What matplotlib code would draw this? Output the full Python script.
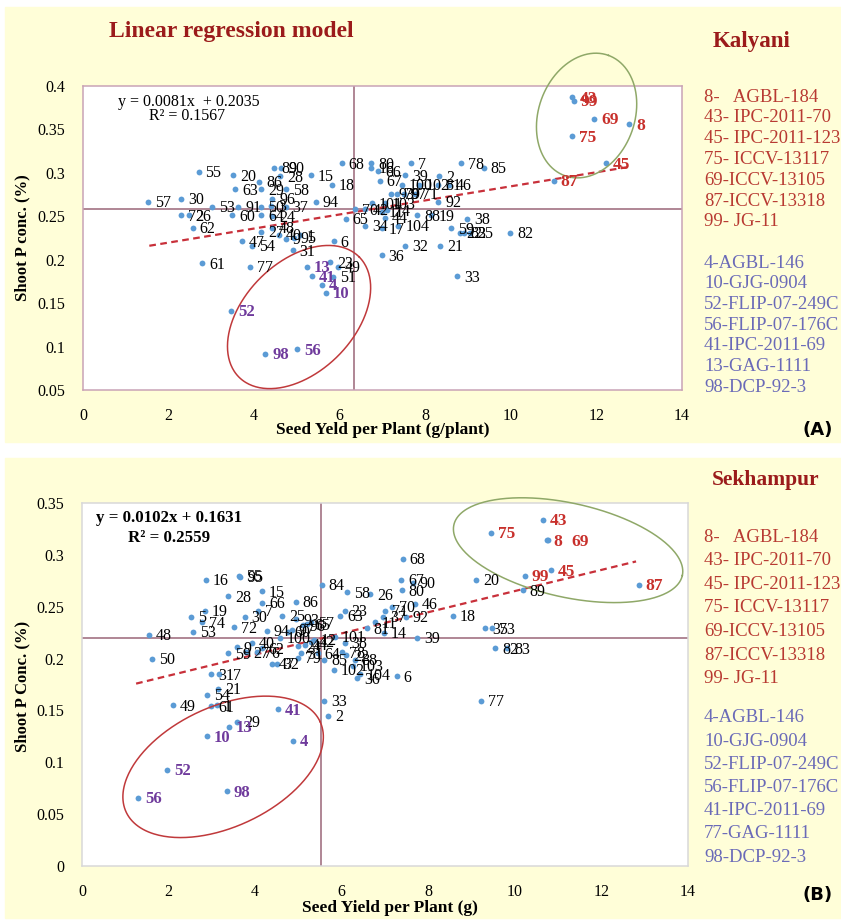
import numpy as np
import matplotlib
matplotlib.use('Agg')
import matplotlib.pyplot as plt
from matplotlib.patches import Rectangle

plt.rcParams['font.family'] = ['Liberation Serif', 'DejaVu Serif']

# ---- (A) Kalyani ----
a_lab = ['55', '20', '86', '89', '90', '28', '15', '68', '63', '29', '58', '18', '57', '30',
         '53', '91', '50', '96', '37', '3', '94', '72', '26', '60', '64', '24', '62', '27',
         '48', '40', '47', '54', '9', '95', '1', '31', '6', '61', '77', '13', '23', '49',
         '41', '4', '51', '10', '52', '98', '56', '65', '80', '16', '66', '7', '78', '85',
         '67', '39', '2', '100', '102', '81', '46', '93', '97', '71', '79', '92', '101',
         '103', '70', '42', '11', '44', '74', '34', '17', '104', '88', '19', '38', '59',
         '22', '83', '25', '82', '32', '21', '36', '33',
         '43', '99', '69', '8', '75', '45', '87']
a_x = [2.70, 3.51, 4.12, 4.47, 4.63, 4.60, 5.33, 6.05, 3.56, 4.16, 4.74, 5.81, 1.53, 2.30,
       3.02, 3.63, 4.16, 4.42, 4.74, 4.40, 5.44, 2.30, 2.47, 3.49, 4.16, 4.42, 2.56, 4.16,
       4.42, 4.58, 3.72, 3.95, 4.74, 4.92, 5.07, 4.90, 5.86, 2.79, 3.91, 5.23, 5.77, 5.95,
       5.35, 5.58, 5.85, 5.67, 3.47, 4.26, 5.00, 6.14, 6.74, 6.74, 6.90, 7.67, 8.84, 9.37,
       6.93, 7.53, 8.33, 7.45, 7.85, 8.30, 8.55, 7.20, 7.50, 7.75, 7.35, 8.30, 6.75,
       7.05, 6.35, 6.60, 6.98, 7.05, 7.10, 6.60, 6.98, 7.37, 7.81, 8.14, 8.98, 8.60,
       8.80, 8.90, 9.05, 9.98, 7.53, 8.35, 6.98, 8.74,
       11.44, 11.47, 11.95, 12.77, 11.42, 12.23, 11.00]
a_y = [0.301, 0.297, 0.290, 0.306, 0.306, 0.296, 0.297, 0.311, 0.281, 0.281, 0.281, 0.286, 0.267, 0.270,
       0.261, 0.261, 0.261, 0.270, 0.261, 0.262, 0.267, 0.251, 0.251, 0.251, 0.251, 0.250, 0.237, 0.232,
       0.237, 0.229, 0.221, 0.216, 0.224, 0.225, 0.228, 0.211, 0.221, 0.196, 0.192, 0.192, 0.197, 0.192,
       0.181, 0.171, 0.180, 0.162, 0.141, 0.092, 0.097, 0.247, 0.311, 0.306, 0.302, 0.311, 0.311, 0.306,
       0.291, 0.297, 0.296, 0.286, 0.286, 0.286, 0.286, 0.276, 0.276, 0.276, 0.276, 0.267, 0.265,
       0.265, 0.258, 0.258, 0.255, 0.248, 0.257, 0.239, 0.236, 0.239, 0.251, 0.251, 0.247, 0.236,
       0.231, 0.231, 0.231, 0.231, 0.216, 0.216, 0.205, 0.181,
       0.387, 0.383, 0.362, 0.356, 0.342, 0.311, 0.291]
a_good = ['43', '99', '69', '8', '75', '45', '87']
a_poor = ['13', '41', '4', '10', '52', '98', '56']
a_eq = ['y = 0.0081x  + 0.2035', 'R\u00b2 = 0.1567']
a_slope, a_icpt = 0.0081, 0.2035
a_fit_x = [1.55, 12.75]
a_mean_x, a_mean_y = 6.33, 0.258
a_legend_good = ['8-   AGBL-184', '43- IPC-2011-70', '45- IPC-2011-123', '75- ICCV-13117',
                 '69-ICCV-13105', '87-ICCV-13318', '99- JG-11']
a_legend_poor = ['4-AGBL-146', '10-GJG-0904', '52-FLIP-07-249C', '56-FLIP-07-176C',
                 '41-IPC-2011-69', '13-GAG-1111', '98-DCP-92-3']

# ---- (B) Sekhampur ----
b_lab = ['16', '55', '95', '28', '15', '66', '86', '5', '19', '74', '53', '30', '7', '72',
         '25', '93', '48', '50', '94', '40', '59', '9', '27', '62', '76', '100', '60', '97',
         '96', '57', '65', '42', '12', '44', '24', '64', '31', '47', '32', '79', '3', '17',
         '21', '54', '49', '61', '1', '29', '13', '41', '10', '4', '52', '56', '98', '33',
         '2', '68', '84', '58', '26', '67', '80', '90', '71', '70', '37', '46', '92', '20',
         '18', '35', '73', '82', '83', '23', '63', '81', '11', '14', '39', '101', '38', '78',
         '85', '88', '22', '102', '103', '104', '36', '6', '77', '89',
         '43', '75', '8', '69', '99', '45', '87']
b_x = [2.86, 3.63, 3.66, 3.37, 4.16, 4.16, 4.94, 2.52, 2.84, 2.77, 2.56, 3.76, 4.06, 3.51,
       4.62, 4.95, 1.55, 1.62, 4.27, 3.93, 3.37, 3.58, 3.80, 4.15, 4.05, 4.57, 4.75, 4.85,
       5.10, 5.30, 5.20, 5.30, 5.35, 5.15, 5.00, 5.45, 5.05, 4.39, 4.50, 4.99, 2.98, 3.16,
       3.14, 2.89, 2.10, 2.98, 3.12, 3.58, 3.40, 4.53, 2.89, 4.87, 1.97, 1.29, 3.35, 5.59,
       5.69, 7.41, 5.54, 6.12, 6.65, 7.37, 7.39, 7.64, 7.00, 7.16, 6.95, 7.69, 7.48, 9.10,
       8.57, 9.31, 9.47, 9.54, 9.82, 6.07, 5.96, 6.58, 6.77, 6.97, 7.74, 5.84, 6.07, 6.00,
       5.60, 6.30, 6.10, 5.82, 6.25, 6.42, 6.35, 7.27, 9.21, 10.18,
       10.65, 9.44, 10.74, 10.76, 10.23, 10.83, 12.86]
b_y = [0.276, 0.280, 0.279, 0.260, 0.265, 0.254, 0.255, 0.240, 0.246, 0.235, 0.226, 0.240, 0.246, 0.230,
       0.241, 0.238, 0.223, 0.200, 0.227, 0.215, 0.205, 0.211, 0.206, 0.210, 0.206, 0.220, 0.226, 0.228,
       0.232, 0.235, 0.233, 0.216, 0.218, 0.213, 0.212, 0.205, 0.205, 0.195, 0.195, 0.201, 0.185, 0.185,
       0.171, 0.165, 0.155, 0.154, 0.155, 0.139, 0.134, 0.151, 0.125, 0.121, 0.093, 0.066, 0.072, 0.159,
       0.145, 0.296, 0.271, 0.264, 0.262, 0.276, 0.266, 0.273, 0.246, 0.250, 0.240, 0.253, 0.240, 0.276,
       0.241, 0.229, 0.229, 0.210, 0.210, 0.246, 0.241, 0.229, 0.235, 0.225, 0.220, 0.221, 0.215, 0.206,
       0.199, 0.199, 0.203, 0.189, 0.193, 0.185, 0.181, 0.183, 0.159, 0.266,
       0.334, 0.321, 0.314, 0.314, 0.280, 0.285, 0.271]
b_good = ['43', '75', '8', '69', '99', '45', '87']
b_poor = ['13', '41', '4', '10', '52', '98', '56']
b_eq = ['y = 0.0102x + 0.1631', 'R\u00b2 = 0.2559']
b_slope, b_icpt = 0.0102, 0.1631
b_fit_x = [1.25, 12.8]
b_mean_x, b_mean_y = 5.53, 0.220
b_legend_good = a_legend_good
b_legend_poor = ['4-AGBL-146', '10-GJG-0904', '52-FLIP-07-249C', '56-FLIP-07-176C',
                 '41-IPC-2011-69', '77-GAG-1111', '98-DCP-92-3']

W, H = 841, 923
fig = plt.figure(figsize=(W / 100, H / 100), dpi=100)
fig.patch.set_facecolor('white')

def fx(px):
    return px / W

def fy(py):
    return 1 - py / H

yellow = '#FFFED8'
dark_red = '#9B1B1B'
red = '#C8302C'
purple = '#6F3A9C'
leg_red = '#B83A32'
leg_blue = '#6A6AB8'
dot = '#5B9BD5'
cross = '#9A6678'

fig.add_artist(Rectangle((fx(5), fy(442)), fx(836), 435 / H, transform=fig.transFigure,
                         color=yellow, zorder=-10))
fig.add_artist(Rectangle((fx(5), fy(918)), fx(836), 460 / H, transform=fig.transFigure,
                         color=yellow, zorder=-10))

def ring(ax, cx, cy, a, b, ang, col):
    pos = ax.get_position()
    x0, x1 = ax.get_xlim()
    y0, y1 = ax.get_ylim()
    sx = pos.width * W / (x1 - x0)
    sy = pos.height * H / (y1 - y0)
    t = np.linspace(0, 2 * np.pi, 300)
    r = np.radians(ang)
    dx = a * np.cos(t) * np.cos(r) - b * np.sin(t) * np.sin(r)
    dy = a * np.cos(t) * np.sin(r) + b * np.sin(t) * np.cos(r)
    ax.plot(cx + dx / sx, cy + dy / sy, color=col, lw=1.1, clip_on=False, zorder=4)

def panel(rect, lab, xs, ys, good, poor, ylim, yticks, spine_col, shift={}):
    ax = fig.add_axes(rect)
    ax.set_facecolor('white')
    ax.set_xlim(0, 14)
    ax.set_ylim(*ylim)
    ax.set_xticks(range(0, 15, 2))
    ax.set_yticks(yticks)
    ax.set_yticklabels([('%g' % v) for v in yticks])
    ax.tick_params(length=0, pad=13, labelsize=11.5)
    for s in ax.spines.values():
        s.set_color(spine_col)
        s.set_linewidth(1.1)
    ax.plot(xs, ys, 'o', color=dot, ms=4.2, mec='none', zorder=3)
    for l, x, y in zip(lab, xs, ys):
        off = (5 + shift.get(l, 0), -1)
        if l in good:
            ax.annotate(l, (x, y), xytext=off, textcoords='offset points', va='center',
                        fontsize=12.5, fontweight='bold', color=red, zorder=5)
        elif l in poor:
            ax.annotate(l, (x, y), xytext=off, textcoords='offset points', va='center',
                        fontsize=12, fontweight='bold', color=purple, zorder=5)
        else:
            ax.annotate(l, (x, y), xytext=off, textcoords='offset points', va='center',
                        fontsize=11.5, color='black', zorder=5)
    return ax

# top panel
axA = panel([fx(83), fy(390), (682 - 83) / W, (390 - 86) / H], a_lab, a_x, a_y, a_good, a_poor,
            (0.05, 0.4), np.arange(0.05, 0.401, 0.05).round(2), '#C9A3B6')
axA.axvline(a_mean_x, color=cross, lw=1.1, zorder=2)
axA.axhline(a_mean_y, color=cross, lw=1.1, zorder=2)
fxs = np.array(a_fit_x)
axA.plot(fxs, a_slope * fxs + a_icpt, color='#C8303A', lw=1.6, dashes=(3, 2), zorder=2)
ring(axA, 5.05, 0.134, 85, 55, 45, '#C0393B')
ring(axA, 11.77, 0.366, 64, 48, 70, '#8FA868')

# bottom panel
axB = panel([fx(82), fy(866), (688 - 82) / W, (866 - 503) / H], b_lab, b_x, b_y, b_good, b_poor,
            (0, 0.35), np.arange(0, 0.351, 0.05).round(2), '#D8D8D8', shift={'69': 12})
axB.axvline(b_mean_x, color=cross, lw=1.1, zorder=2)
axB.axhline(b_mean_y, color=cross, lw=1.1, zorder=2)
fxs = np.array(b_fit_x)
axB.plot(fxs, b_slope * fxs + b_icpt, color='#C8303A', lw=1.6, dashes=(3, 2), zorder=2)
ring(axB, 3.26, 0.0956, 107, 60, 25, '#C0393B')
ring(axB, 11.23, 0.3045, 117, 47, -12.5, '#8FA868')

# texts
fig.text(fx(231), fy(32), 'Linear regression model', ha='center', va='center', fontsize=17,
         fontweight='bold', color=dark_red)
fig.text(fx(752), fy(42), 'Kalyani', ha='center', va='center', fontsize=16.5,
         fontweight='bold', color=dark_red)
fig.text(fx(766), fy(480), 'Sekhampur', ha='center', va='center', fontsize=15.5,
         fontweight='bold', color=dark_red)

fig.text(fx(118), fy(102), a_eq[0], ha='left', va='center', fontsize=11.5)
fig.text(fx(149), fy(116), a_eq[1], ha='left', va='center', fontsize=11.5)
fig.text(fx(96), fy(518), b_eq[0], ha='left', va='center', fontsize=12.2, fontweight='bold')
fig.text(fx(128), fy(538), b_eq[1], ha='left', va='center', fontsize=12.2, fontweight='bold')

fig.text(fx(383), fy(430), 'Seed Yeld per Plant (g/plant)', ha='center', va='center',
         fontsize=12.5, fontweight='bold')
fig.text(fx(390), fy(908), 'Seed Yield per Plant (g)', ha='center', va='center',
         fontsize=12.5, fontweight='bold')
fig.text(fx(22), fy(238), 'Shoot P conc. (%)', ha='center', va='center', rotation=90,
         fontsize=12, fontweight='bold')
fig.text(fx(22), fy(686), 'Shoot P Conc. (%)', ha='center', va='center', rotation=90,
         fontsize=12, fontweight='bold')

for i, s in enumerate(a_legend_good):
    fig.text(fx(704), fy(97 + 20.8 * i), s, ha='left', va='center', fontsize=13.5, color=leg_red)
for i, s in enumerate(a_legend_poor):
    fig.text(fx(704), fy(263 + 20.7 * i), s, ha='left', va='center', fontsize=13.5, color=leg_blue)
for i, s in enumerate(b_legend_good):
    fig.text(fx(704), fy(537 + 23.6 * i), s, ha='left', va='center', fontsize=13.5, color=leg_red)
for i, s in enumerate(b_legend_poor):
    fig.text(fx(704), fy(718 + 23.2 * i), s, ha='left', va='center', fontsize=13.5, color=leg_blue)

fig.text(fx(818), fy(430), '(A)', ha='center', va='center', fontsize=13, fontweight='bold',
         family='DejaVu Sans')
fig.text(fx(818), fy(895), '(B)', ha='center', va='center', fontsize=13, fontweight='bold',
         family='DejaVu Sans')

fig.savefig('out.png', dpi=100)
